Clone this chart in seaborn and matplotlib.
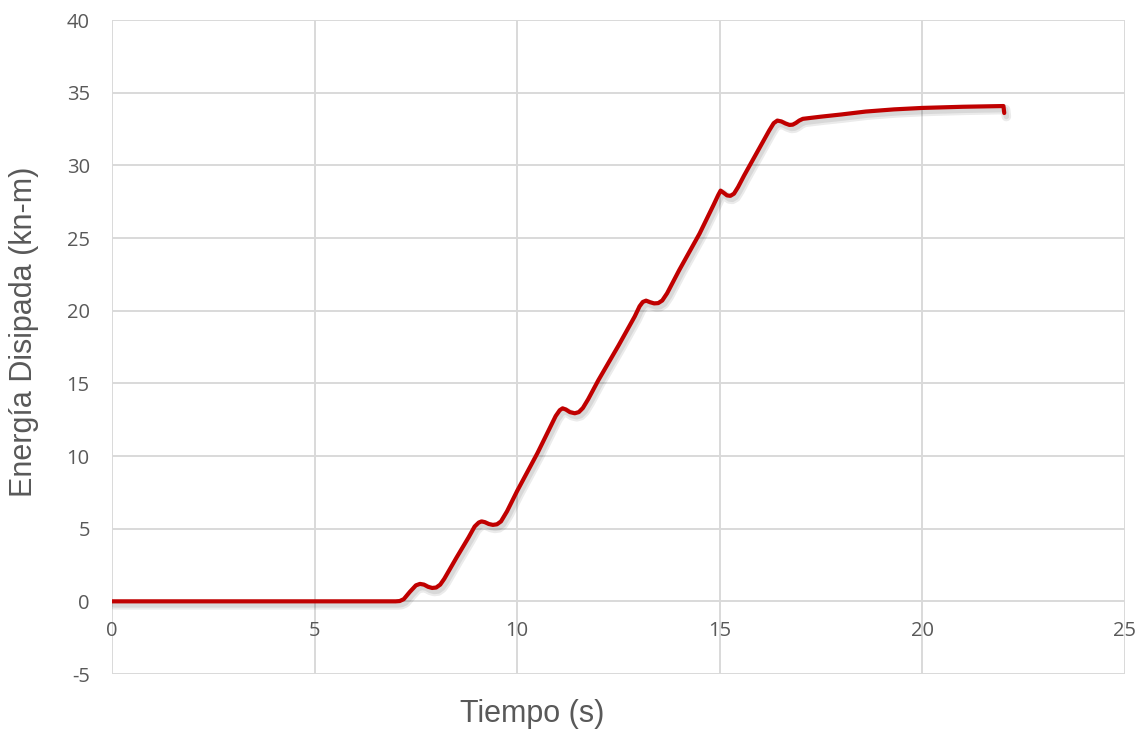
import matplotlib
matplotlib.use("Agg")
import matplotlib.pyplot as plt
import matplotlib.patheffects as pe
import seaborn as sns
import pandas as pd

tiempo = [0, 7.0, 7.1, 7.2, 7.35, 7.5, 7.6, 7.7, 7.8, 7.9, 8.0, 8.1, 8.2, 8.5, 8.8,
          8.95, 9.05, 9.12, 9.2, 9.3, 9.4, 9.5, 9.6, 9.75, 10.0, 10.5, 10.8, 10.95,
          11.05, 11.12, 11.2, 11.3, 11.42, 11.52, 11.62, 11.75, 12.0, 12.5, 12.9,
          13.02, 13.1, 13.18, 13.28, 13.38, 13.48, 13.58, 13.7, 14.0, 14.5, 14.85,
          14.96, 15.02, 15.1, 15.18, 15.26, 15.35, 15.45, 15.6, 16.0, 16.22, 16.33,
          16.42, 16.52, 16.62, 16.72, 16.8, 16.88, 16.96, 17.05, 17.5, 18.0, 18.6,
          19.3, 20.0, 21.0, 22.0, 22.02]
energia = [0, 0, 0.02, 0.15, 0.65, 1.1, 1.2, 1.15, 1.0, 0.92, 0.95, 1.15, 1.55, 3.0,
           4.4, 5.15, 5.42, 5.5, 5.45, 5.32, 5.26, 5.3, 5.5, 6.2, 7.6, 10.2, 11.9,
           12.75, 13.15, 13.28, 13.2, 13.02, 12.94, 13.02, 13.3, 13.9, 15.2, 17.6,
           19.6, 20.3, 20.6, 20.69, 20.58, 20.5, 20.52, 20.7, 21.2, 22.8, 25.3, 27.3,
           27.95, 28.26, 28.1, 27.93, 27.9, 28.05, 28.5, 29.3, 31.3, 32.4, 32.9,
           33.08, 33.02, 32.88, 32.78, 32.8, 32.92, 33.08, 33.2, 33.35, 33.5, 33.7,
           33.85, 33.95, 34.03, 34.08, 33.6]

x_ticks = [0, 5, 10, 15, 20, 25]
y_ticks = [-5, 0, 5, 10, 15, 20, 25, 30, 35, 40]

df = pd.DataFrame({"Tiempo": tiempo, "Energia": energia})

sns.set_theme(style="white")
plt.rcParams['font.family'] = ['Open Sans', 'DejaVu Sans']

fig = plt.figure(figsize=(11.43, 7.34), dpi=100)
ax = fig.add_axes([112/1143, 1 - 674/734, 1013/1143, 654/734])

sns.lineplot(data=df, x="Tiempo", y="Energia", ax=ax, color="#C00000",
             linewidth=3.0, sort=False, estimator=None,
             path_effects=[pe.SimpleLineShadow(offset=(1.5, -2.5), shadow_color="#000000",
                                               alpha=0.08, linewidth=7),
                           pe.SimpleLineShadow(offset=(1.5, -2.5), shadow_color="#000000",
                                               alpha=0.08, linewidth=4),
                           pe.Normal()])
for l in ax.lines:
    l.set_solid_capstyle("round")
    l.set_solid_joinstyle("round")

ax.set_xlim(0, 25)
ax.set_ylim(-5, 40)
ax.set_xticks(x_ticks)
ax.set_yticks(y_ticks)
ax.set_xticklabels([str(v) for v in x_ticks])
ax.set_yticklabels([str(v) for v in y_ticks])
ax.grid(True, color="#d9d9d9", linewidth=1.4)
ax.set_axisbelow(True)
for s in ax.spines.values():
    s.set_visible(False)
ax.spines['bottom'].set_position(('data', 0))

ax.tick_params(axis='x', length=0, pad=14, labelsize=14.5, labelcolor="#595959")
ax.tick_params(axis='y', length=0, pad=16, labelsize=14.5, labelcolor="#595959")

ax.set_xlabel("Tiempo (s)", fontsize=22, color="#595959", family=["Liberation Sans", "DejaVu Sans"])
ax.set_ylabel("Energía Disipada (kn-m)", fontsize=22, color="#595959", family=["Liberation Sans", "DejaVu Sans"])
ax.xaxis.set_label_coords(0.415, -0.038)
ax.yaxis.set_label_coords(-0.072, 0.523)

fig.savefig("out.png", dpi=100, facecolor="white")
